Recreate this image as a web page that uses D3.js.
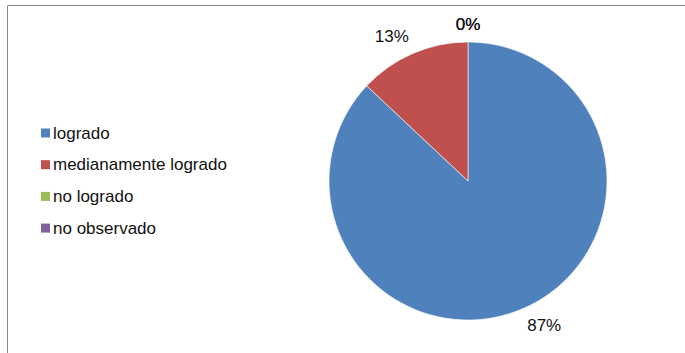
<!DOCTYPE html>
<html>
<head>
<meta charset="utf-8">
<script src="https://cdn.jsdelivr.net/npm/d3@7"></script>
<style>
  html, body { margin: 0; padding: 0; background: #fff; }
  svg { display: block; font-family: "Liberation Sans", Arial, sans-serif; }
</style>
</head>
<body>
<svg id="chart" width="685" height="353"></svg>
<script>
// Categories, values (percent) and their colours
const categories = ["logrado", "medianamente logrado", "no logrado", "no observado"];
const values = [87, 13, 0, 0];
const colors = ["#4F81BD", "#C0504D", "#9BBB59", "#8064A2"];

const svg = d3.select("#chart");

// Outer frame of the chart area
svg.append("path")
  .attr("d", "M7.5,353 V5.5 H685")
  .attr("fill", "none")
  .attr("stroke", "#888")
  .attr("stroke-width", 1);

const cx = 468, cy = 181, radius = 139;
const color = d3.scaleOrdinal().domain(categories).range(colors);

const data = categories.map((c, i) => ({ name: c, value: values[i] }));

const pie = d3.pie().value(d => d.value).sort(null);
const arcs = pie(data);
const arc = d3.arc().innerRadius(0).outerRadius(radius);

const g = svg.append("g").attr("transform", `translate(${cx},${cy})`);

g.selectAll("path.slice")
  .data(arcs.filter(a => a.value > 0))
  .join("path")
  .attr("class", "slice")
  .attr("d", arc)
  .attr("fill", d => color(d.data.name))
  .attr("stroke", "#fff")
  .attr("stroke-width", 0.6);

// Percentage labels outside each slice: anchor point a fixed gap beyond the
// rim on the slice's mid direction, with the label box hung off that point
// on the outward side.
const fontSize = 17;
const gap = 10;
const labels = g.selectAll("text.pct")
  .data(arcs)
  .join("text")
  .attr("class", "pct")
  .attr("text-anchor", "middle")
  .attr("dominant-baseline", "central")
  .attr("font-size", fontSize)
  .attr("fill", "#111")
  .text(d => d3.format(".0f")(d.value) + "%");

const sgn = v => (Math.abs(v) < 1e-6 ? 0 : Math.sign(v));
labels.each(function(d) {
  const a = (d.startAngle + d.endAngle) / 2;
  const bb = this.getBBox();
  const r = radius + gap;
  const s = Math.sin(a), c = Math.cos(a);
  d3.select(this)
    .attr("x", r * s + sgn(s) * bb.width / 2)
    .attr("y", -r * c - sgn(c) * fontSize * 0.47);
});

// Legend
const legend = svg.append("g").attr("transform", "translate(41,133)");
const rowH = 31.7;
const rows = legend.selectAll("g")
  .data(categories)
  .join("g")
  .attr("transform", (d, i) => `translate(0,${i * rowH})`);

rows.append("rect")
  .attr("x", 0).attr("y", -4.5)
  .attr("width", 9).attr("height", 9)
  .attr("fill", d => color(d));

rows.append("text")
  .attr("x", 12)
  .attr("y", 0)
  .attr("dominant-baseline", "central")
  .attr("font-size", fontSize)
  .attr("fill", "#111")
  .text(d => d);
</script>
</body>
</html>
